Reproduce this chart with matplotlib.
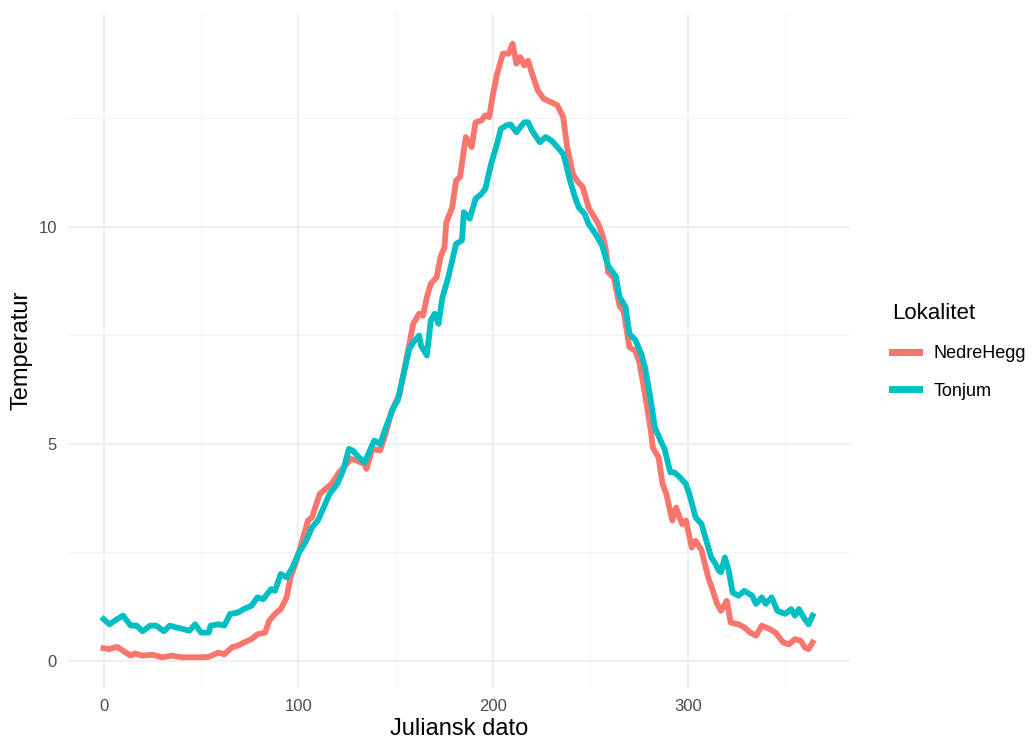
import matplotlib
matplotlib.use("Agg")
import matplotlib.pyplot as plt
from matplotlib.ticker import MultipleLocator

plt.rcParams['font.family'] = ['Liberation Sans', 'DejaVu Sans']

# NedreHegg
nh_day = [0, 3, 7, 10, 14, 16, 20, 25, 30, 35, 40, 45, 50, 54, 59, 62, 66, 69, 72, 76,
          79, 83, 85, 88, 91, 94, 96, 99, 102, 105, 107, 111, 114, 117, 121, 124, 127, 130, 134, 135,
          138, 142, 145, 148, 152, 154, 157, 159, 162, 164, 166, 168, 171, 173, 175, 176, 179, 181, 183, 185,
          186, 189, 191, 194, 196, 198, 200, 202, 205, 208, 210, 212, 214, 216, 218, 220, 223, 226, 230, 233,
          236, 238, 241, 243, 246, 249, 252, 254, 256, 258, 259, 262, 265, 267, 270, 273, 275, 277, 278, 281,
          282, 285, 287, 289, 292, 294, 297, 299, 302, 304, 307, 310, 311, 312, 315, 317, 320, 322, 326, 329,
          332, 335, 338, 342, 345, 349, 352, 355, 358, 360, 362, 364]
nh_temp = [0.29, 0.27, 0.32, 0.23, 0.12, 0.17, 0.12, 0.14, 0.08, 0.12, 0.08, 0.08, 0.08, 0.09, 0.19, 0.15, 0.31, 0.35, 0.42, 0.50,
           0.61, 0.65, 0.92, 1.08, 1.19, 1.46, 1.92, 2.30, 2.76, 3.23, 3.30, 3.84, 3.96, 4.07, 4.34, 4.49, 4.65, 4.61, 4.53, 4.42,
           4.88, 4.84, 5.26, 5.76, 6.14, 6.60, 7.30, 7.76, 7.99, 7.95, 8.37, 8.68, 8.83, 9.30, 9.52, 10.10, 10.44, 11.06, 11.14, 11.75,
           12.06, 11.83, 12.40, 12.44, 12.56, 12.52, 13.06, 13.50, 13.98, 13.98, 14.21, 13.75, 13.90, 13.71, 13.82, 13.52, 13.13, 12.94, 12.86, 12.79,
           12.52, 11.83, 11.21, 11.06, 10.91, 10.44, 10.21, 10.06, 9.83, 9.45, 8.95, 8.82, 8.16, 8.05, 7.22, 7.14, 6.89, 6.40, 6.14, 5.30,
           4.91, 4.68, 4.07, 3.84, 3.23, 3.53, 3.15, 3.23, 2.61, 2.76, 2.55, 2.00, 1.84, 1.73, 1.31, 1.15, 1.38, 0.88, 0.84, 0.77,
           0.65, 0.58, 0.81, 0.73, 0.65, 0.42, 0.38, 0.50, 0.46, 0.31, 0.27, 0.42]

# Tonjum
to_day = [0, 3, 7, 10, 14, 17, 20, 24, 27, 31, 34, 37, 41, 44, 47, 50, 54, 55, 59, 62,
          65, 69, 72, 76, 79, 82, 86, 88, 91, 94, 97, 100, 104, 107, 110, 113, 116, 120, 123, 126,
          128, 131, 134, 139, 142, 145, 149, 151, 154, 157, 159, 162, 163, 166, 168, 170, 172, 174, 177, 179,
          181, 184, 185, 188, 191, 194, 196, 199, 202, 204, 207, 209, 212, 214, 216, 218, 220, 224, 227, 230,
          233, 236, 237, 239, 242, 244, 247, 249, 253, 256, 259, 263, 265, 268, 270, 273, 276, 278, 281, 283,
          286, 288, 291, 293, 296, 299, 301, 304, 307, 309, 312, 314, 316, 317, 319, 321, 323, 326, 329, 333,
          335, 338, 340, 343, 346, 350, 353, 355, 357, 360, 362, 364]
to_temp = [0.96, 0.84, 0.96, 1.04, 0.81, 0.81, 0.68, 0.81, 0.81, 0.68, 0.81, 0.77, 0.73, 0.69, 0.84, 0.65, 0.65, 0.81, 0.84, 0.81,
           1.08, 1.11, 1.19, 1.27, 1.46, 1.42, 1.65, 1.61, 2.00, 1.92, 2.15, 2.46, 2.76, 3.07, 3.23, 3.53, 3.84, 4.07, 4.38, 4.88,
           4.84, 4.69, 4.57, 5.07, 4.99, 5.38, 5.84, 5.99, 6.60, 7.18, 7.33, 7.49, 7.26, 7.03, 7.83, 7.99, 7.76, 8.37, 8.83, 9.22,
           9.60, 9.68, 10.33, 10.18, 10.64, 10.75, 10.87, 11.44, 11.90, 12.25, 12.33, 12.35, 12.17, 12.29, 12.40, 12.40, 12.21, 11.94, 12.06, 11.98,
           11.83, 11.67, 11.52, 11.14, 10.68, 10.44, 10.29, 10.06, 9.80, 9.56, 9.10, 8.85, 8.37, 8.15, 7.53, 7.39, 7.08, 6.76, 5.99, 5.38,
           5.07, 4.88, 4.34, 4.34, 4.22, 4.07, 3.80, 3.30, 3.15, 2.84, 2.38, 2.25, 2.07, 2.04, 2.38, 2.07, 1.57, 1.50, 1.61, 1.50,
           1.31, 1.46, 1.31, 1.46, 1.15, 1.08, 1.19, 1.04, 1.19, 0.96, 0.84, 1.04]

series = ['NedreHegg', 'Tonjum']
colors = ['#F8766D', '#00BFC4']

fig = plt.figure(figsize=(10.33, 7.42), dpi=100)
ax = fig.add_axes([68/1033, 1 - 688/742, (850-68)/1033, (688-13)/742])

ax.plot(nh_day, nh_temp, color=colors[0], lw=4.2, label=series[0], solid_joinstyle='round')
ax.plot(to_day, to_temp, color=colors[1], lw=4.2, label=series[1], solid_joinstyle='round')

# ggplot style expansion of 5 %
xmin, xmax = 0, 365
ymin, ymax = min(nh_temp + to_temp), max(nh_temp + to_temp)
ax.set_xlim(xmin - 0.05*(xmax-xmin), xmax + 0.05*(xmax-xmin))
ax.set_ylim(ymin - 0.05*(ymax-ymin), ymax + 0.05*(ymax-ymin))

ax.xaxis.set_major_locator(MultipleLocator(100))
ax.xaxis.set_minor_locator(MultipleLocator(50))
ax.yaxis.set_major_locator(MultipleLocator(5))
ax.yaxis.set_minor_locator(MultipleLocator(2.5))
ax.grid(which='major', color='#EBEBEB', lw=1.1)
ax.grid(which='minor', color='#F3F3F3', lw=0.7)
ax.set_axisbelow(True)
for s in ax.spines.values():
    s.set_visible(False)
ax.tick_params(which='both', length=0, labelsize=12, labelcolor='#4D4D4D', pad=8)

ax.set_xlabel('Juliansk dato', fontsize=17, labelpad=3)
ax.set_ylabel('Temperatur', fontsize=17, labelpad=4)

leg = fig.legend(loc='upper left', bbox_to_anchor=(885/1033, 1 - 296/742), frameon=False,
                 title='Lokalitet', fontsize=13, title_fontsize=16, alignment='left',
                 handlelength=1.5, handletextpad=0.8, labelspacing=1.15, borderaxespad=0)
for h in leg.get_lines():
    h.set_linewidth(5)

fig.savefig('out.png', dpi=100, facecolor='white')
